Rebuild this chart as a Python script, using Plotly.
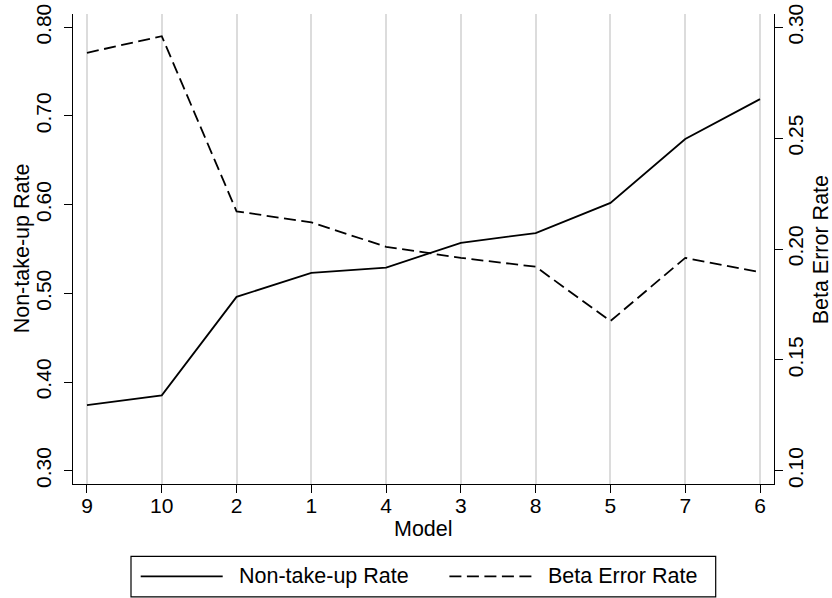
import plotly.graph_objects as go

models = ["9", "10", "2", "1", "4", "3", "8", "5", "7", "6"]
non_take_up = [0.374, 0.385, 0.496, 0.523, 0.529, 0.557, 0.568, 0.602, 0.674, 0.719]
beta_error = [0.2885, 0.296, 0.217, 0.212, 0.201, 0.196, 0.192, 0.1675, 0.196, 0.1895]
left_ticks = [0.30, 0.40, 0.50, 0.60, 0.70, 0.80]
right_ticks = [0.10, 0.15, 0.20, 0.25, 0.30]

FONT = "Liberation Sans, Arial, sans-serif"
FS = 21
FT = 21.5
DASH = "12px,5.5px"

fig = go.Figure()
fig.add_trace(go.Scatter(x=models, y=non_take_up, mode="lines", name="Non-take-up Rate",
                         line=dict(color="black", width=1.8), yaxis="y"))
fig.add_trace(go.Scatter(x=models, y=beta_error, mode="lines", name="Beta Error Rate",
                         line=dict(color="black", width=1.8, dash=DASH), yaxis="y2"))

# the page body margin is removed (post_script), so figure pixels == screen pixels
W, H = 832, 598
L, R, T, B = 73.3, 774.3, 14, 483.7  # plot area

fig.update_layout(
    width=W, height=H,
    margin=dict(l=L, r=W - R, t=T, b=H - B, autoexpand=False),
    paper_bgcolor="white", plot_bgcolor="white",
    font=dict(family=FONT, size=FS, color="black"),
    showlegend=False,
    xaxis=dict(type="category", range=[-0.187, 9.187], showgrid=True, gridcolor="#dcdcdc",
               gridwidth=1.5, showline=True, linecolor="black", linewidth=1.2,
               ticks="outside", ticklen=8, tickwidth=1.2, tickcolor="black",
               ticklabelstandoff=-5, ticklabeloverflow="allow", zeroline=False),
    yaxis=dict(range=[0.285, 0.815], tickvals=left_ticks, tickformat=".2f", tickangle=-90,
               showgrid=False, showline=True, linecolor="black", linewidth=1.2,
               ticks="outside", ticklen=8, tickwidth=1.2, tickcolor="black",
               ticklabelstandoff=5, ticklabeloverflow="allow", zeroline=False),
    yaxis2=dict(range=[0.094, 0.306], tickvals=right_ticks, tickformat=".2f", tickangle=-90,
                overlaying="y", side="right", showgrid=False, showline=True,
                linecolor="black", linewidth=1.2, ticks="outside", ticklen=8, tickwidth=1.2,
                tickcolor="black", ticklabelstandoff=-5, ticklabeloverflow="allow",
                zeroline=False),
)


def px(x):
    return (x - L) / (R - L)


def py(y):
    return (B - y) / (B - T)


# axis titles
fig.add_annotation(xref="paper", yref="paper", x=px(424), y=py(529), text="Model",
                   showarrow=False, xanchor="center", yanchor="middle", font=dict(size=FT))
fig.add_annotation(xref="paper", yref="paper", x=px(22.5), y=py(248), text="Non-take-up Rate",
                   showarrow=False, xanchor="center", yanchor="middle", textangle=-90,
                   font=dict(size=FT))
fig.add_annotation(xref="paper", yref="paper", x=px(821.5), y=py(250), text="Beta Error Rate",
                   showarrow=False, xanchor="center", yanchor="middle", textangle=-90,
                   font=dict(size=FT))

# legend drawn manually (box, samples, labels)
fig.add_shape(type="rect", xref="paper", yref="paper", x0=px(131.3), x1=px(716),
              y0=py(596.5), y1=py(556), line=dict(color="black", width=1.2), fillcolor="white")
ly = py(576)
fig.add_shape(type="line", xref="paper", yref="paper", x0=px(141), x1=px(223), y0=ly, y1=ly,
              line=dict(color="black", width=1.8))
fig.add_shape(type="line", xref="paper", yref="paper", x0=px(449.7), x1=px(532), y0=ly, y1=ly,
              line=dict(color="black", width=1.8, dash=DASH))
fig.add_annotation(xref="paper", yref="paper", x=px(237), y=ly, text="Non-take-up Rate",
                   showarrow=False, xanchor="left", yanchor="middle", font=dict(size=FT))
fig.add_annotation(xref="paper", yref="paper", x=px(546), y=ly, text="Beta Error Rate",
                   showarrow=False, xanchor="left", yanchor="middle", font=dict(size=FT))

fig.write_html(
    "out.html",
    config={"displayModeBar": False},
    post_script="document.body.style.margin='0px';document.body.style.overflow='hidden';",
)
